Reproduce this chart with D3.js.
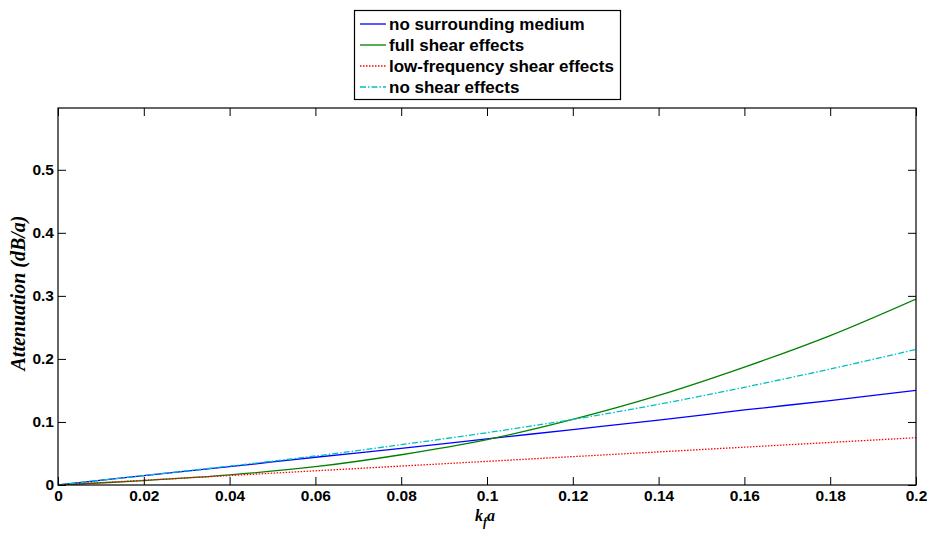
<!DOCTYPE html>
<html><head><meta charset="utf-8">
<script src="https://cdn.jsdelivr.net/npm/d3@7"></script>
<style>body{margin:0;background:#fff}svg{display:block}</style>
</head><body><svg id="c" width="930" height="533"></svg>
<script>
const xs = [0,0.02,0.04,0.06,0.08,0.1,0.12,0.14,0.16,0.18,0.2];
const noSurrounding = [0,0.015,0.029,0.044,0.058,0.073,0.088,0.103,0.119,0.134,0.15];
const fullShear = [0,0.007,0.016,0.029,0.048,0.072,0.104,0.142,0.187,0.237,0.295];
const lowFreqShear = [0,0.0075,0.015,0.0225,0.03,0.0375,0.045,0.0525,0.06,0.0675,0.075];
const noShear = [0,0.015,0.03,0.046,0.064,0.083,0.104,0.128,0.155,0.184,0.215];
const seriesNames = ["no surrounding medium","full shear effects","low-frequency shear effects","no shear effects"];
const xTicks = [0,0.02,0.04,0.06,0.08,0.1,0.12,0.14,0.16,0.18,0.2];
const yTicks = [0,0.1,0.2,0.3,0.4,0.5];

const svg = d3.select("#c");
const L=58,R=916,T=108,B=485;
const x = d3.scaleLinear().domain([0,0.2]).range([L,R]);
const y = d3.scaleLinear().domain([0,0.598]).range([B,T]);

const series = [
 {v:noSurrounding,color:"#0000ff",dash:null},
 {v:fullShear,color:"#008000",dash:null},
 {v:lowFreqShear,color:"#ff0000",dash:"1.5,1.5"},
 {v:noShear,color:"#00bfbf",dash:"6,2,1.5,2"}
];

svg.append("rect").attr("x",L).attr("y",T).attr("width",R-L).attr("height",B-T).attr("fill","#fff");

const line = d3.line().x((d,i)=>x(xs[i])).y(d=>y(d)).curve(d3.curveCatmullRom);
svg.append("defs").append("clipPath").attr("id","clip").append("rect").attr("x",L).attr("y",T).attr("width",R-L).attr("height",B-T);
series.forEach(s=>{
  svg.append("path").attr("d",line(s.v)).attr("fill","none").attr("stroke",s.color)
   .attr("stroke-width",1.3).attr("stroke-dasharray",s.dash).attr("clip-path","url(#clip)");
});

const tk=8;
const fmt = d=> d===0?"0":d3.format("")(+d.toFixed(2));
const axB = svg.append("g").attr("transform",`translate(0,${B})`).call(d3.axisBottom(x).tickValues(xTicks).tickSize(-tk).tickPadding(3).tickFormat(fmt));
const axT = svg.append("g").attr("transform",`translate(0,${T})`).call(d3.axisTop(x).tickValues(xTicks).tickSize(-tk).tickFormat(""));
const axL = svg.append("g").attr("transform",`translate(${L},0)`).call(d3.axisLeft(y).tickValues(yTicks).tickSize(-tk).tickPadding(4).tickFormat(fmt));
const axR = svg.append("g").attr("transform",`translate(${R},0)`).call(d3.axisRight(y).tickValues(yTicks).tickSize(-tk).tickFormat(""));
[axB,axT,axL,axR].forEach(a=>{
  a.select(".domain").remove();
  a.selectAll("line").attr("stroke","#000");
  a.selectAll("text").attr("font-family","Liberation Sans, Arial, sans-serif").attr("font-weight","bold").attr("font-size",15.5).attr("fill","#000");
});
axB.selectAll("text").attr("dy","0.85em");
svg.append("rect").attr("x",L).attr("y",T).attr("width",R-L).attr("height",B-T).attr("fill","none").attr("stroke","#000").attr("stroke-width",1.2);

// axis labels
const xl = svg.append("text").attr("x",485).attr("y",521).attr("text-anchor","middle")
  .attr("font-family","Liberation Serif, Times New Roman, serif").attr("font-style","italic").attr("font-weight","bold").attr("font-size",16);
xl.append("tspan").text("k");
xl.append("tspan").attr("font-size",12).attr("dy",5).text("f");
xl.append("tspan").attr("dy",-5).text("a");
svg.append("text").attr("transform","translate(25,293) rotate(-90)").attr("text-anchor","middle")
  .attr("font-family","Liberation Serif, Times New Roman, serif").attr("font-style","italic").attr("font-weight","bold").attr("font-size",20)
  .text("Attenuation (dB/a)");

// legend
const lg = svg.append("g");
lg.append("rect").attr("x",354.5).attr("y",10.5).attr("width",266).attr("height",89).attr("fill","#fff").attr("stroke","#000").attr("stroke-width",1.2);
seriesNames.forEach((n,i)=>{
  const yy = 24+i*21;
  lg.append("line").attr("x1",360).attr("x2",386).attr("y1",yy).attr("y2",yy).attr("stroke",series[i].color).attr("stroke-width",1.3).attr("stroke-dasharray",series[i].dash);
  lg.append("text").attr("x",389).attr("y",yy+6).text(n).attr("font-family","Liberation Sans, Arial, sans-serif").attr("font-weight","bold").attr("font-size",17).attr("fill","#000");
});
</script></body></html>
